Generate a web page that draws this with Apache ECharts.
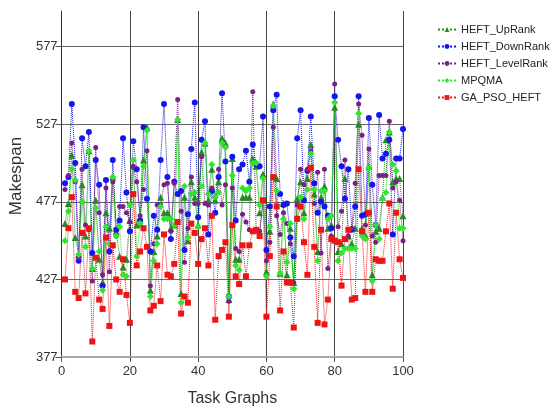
<!DOCTYPE html>
<html>
<head>
<meta charset="utf-8">
<script src="https://cdn.jsdelivr.net/npm/echarts@6/dist/echarts.min.js"></script>
<style>
html, body { margin: 0; padding: 0; background: #fff; }
#main { width: 552px; height: 412px; }
</style>
</head>
<body>
<div id="main"></div>
<script>
// values, task graph 1..100
var yTicks = [377, 427, 477, 527, 577];
var xTicks = [0, 20, 40, 60, 80, 100];

var upRank = [463,476,507,454,443,488,455,510,434,478, 440,425,470,460,493,458,442,435,440,465,
  500,462,463,504,525,420,445,455,480,470, 470,460,462,530,418,480,452,490,480,462,
  509,515,478,498,478,490,518,515,414,505, 440,440,480,480,480,505,500,470,495,432,
  458,540,492,431,476,430,460,425,479,490, 470,492,514,482,445,480,487,460,462,538,
  445,450,492,455,450,460,527,460,455,500, 430,458,460,480,517,522,490,492,492,468];

var downRank = [489,493,540,502,439,518,500,522,444,504, 488,423,491,445,504,459,465,518,483,458,
  516,498,465,525,479,445,468,459,504,540, 493,453,490,482,484,446,469,511,541,467,
  517,529,456,484,470,493,547,503,416,506, 465,498,501,510,490,514,501,500,532,446,
  474,536,546,482,475,476,454,442,518,536, 478,497,532,489,470,477,474,468,460,545,
  517,500,479,498,459,474,545,468,469,531, 488,462,533,505,508,517,456,505,505,524];

var levelRank = [485,494,515,490,441,498,462,459,426,512, 470,430,486,432,490,455,474,474,470,464,
  500,490,468,485,510,423,450,475,475,488, 489,458,489,543,471,438,460,493,476,476,
  506,476,475,486,480,498,475,488,413,486, 447,445,469,464,459,548,458,458,478,439,
  451,525,468,456,470,463,450,425,475,498, 488,498,510,476,496,444,498,434,455,553,
  461,471,504,455,460,489,540,520,462,511, 455,451,494,494,494,529,486,490,478,452];

var mpqma = [452,471,498,491,443,477,448,510,434,473, 445,420,461,450,493,455,461,430,429,475,
  504,442,463,500,523,416,439,450,474,466, 466,466,462,530,412,487,454,482,483,461,
  487,515,482,501,480,483,515,512,416,494, 436,433,486,484,486,502,502,475,492,429,
  461,539,484,431,466,438,463,421,466,480, 466,485,508,485,439,484,484,466,468,541,
  439,444,447,447,447,447,534,455,453,499, 426,462,453,479,483,522,501,497,460,460];

var gaPso = [427,460,480,419,415,457,418,460,387,441, 414,408,454,397,449,427,419,440,417,399,
  482,436,445,460,448,407,410,436,413,456, 430,429,437,464,405,416,412,463,457,437,
  453,460,436,468,401,442,446,451,403,462, 429,424,449,429,449,458,459,455,478,403,
  442,493,474,407,445,425,425,396,466,474, 451,430,499,448,399,459,398,414,453,452,
  451,423,453,459,414,415,498,458,419,470, 419,440,439,439,458,476,421,470,440,428];

function pts(arr) {
  return arr.map(function (v, i) { return [i + 1, v]; });
}

function line(name, arr, color, symbol, size) {
  return {
    name: name,
    type: 'line',
    data: pts(arr),
    symbol: symbol,
    symbolSize: size,
    showSymbol: true,
    lineStyle: { type: 'dotted', width: 1, color: color },
    itemStyle: { color: color },
    emphasis: { disabled: true }
  };
}

var myChart = echarts.init(document.getElementById('main'));

var option = {
  animation: false,
  backgroundColor: '#fff',
  textStyle: { fontFamily: 'Liberation Sans, Arial, sans-serif' },
  grid: { left: 61, right: 149, top: 11, bottom: 55 },
  legend: {
    orient: 'vertical',
    left: 432,
    top: 19,
    itemWidth: 18,
    itemHeight: 6,
    itemGap: 6,
    textStyle: { fontSize: 11, color: '#222' },
    data: ['HEFT_UpRank', 'HEFT_DownRank', 'HEFT_LevelRank', 'MPQMA', 'GA_PSO_HEFT']
  },
  xAxis: {
    type: 'value',
    min: 0,
    max: 100,
    interval: 20,
    name: 'Task Graphs',
    nameLocation: 'middle',
    nameGap: 34,
    nameTextStyle: { fontSize: 16, color: '#333' },
    axisLine: { lineStyle: { color: '#aaa', width: 2 } },
    axisTick: { show: true, length: 5, lineStyle: { color: '#555' } },
    axisLabel: { fontSize: 13, color: '#333', margin: 8 },
    splitLine: { show: true, lineStyle: { color: '#444', width: 1 } }
  },
  yAxis: {
    type: 'value',
    min: 377,
    max: 600,
    interval: 50,
    name: 'Makespan',
    nameLocation: 'middle',
    nameGap: 36,
    nameTextStyle: { fontSize: 17, color: '#333', padding: [0, 0, 0, 16] },
    axisLine: { show: true, lineStyle: { color: '#333', width: 1 } },
    axisTick: { show: true, length: 6, customValues: yTicks, lineStyle: { color: '#555' } },
    axisLabel: { fontSize: 13, color: '#333', margin: 4, customValues: yTicks },
    splitLine: {
      show: true,
      lineStyle: { color: ['#aaa', '#666', '#666', '#666', '#666', 'rgba(0,0,0,0)'], width: 1 }
    }
  },
  series: [
    line('HEFT_UpRank', upRank, '#258a25', 'triangle', 7),
    line('HEFT_DownRank', downRank, '#1414ee', 'circle', 6),
    line('HEFT_LevelRank', levelRank, '#7a1f88', 'circle', 5),
    line('MPQMA', mpqma, '#2ee62e', 'diamond', 7),
    line('GA_PSO_HEFT', gaPso, '#ee1414', 'rect', 6)
  ]
};

myChart.setOption(option);
</script>
</body>
</html>
